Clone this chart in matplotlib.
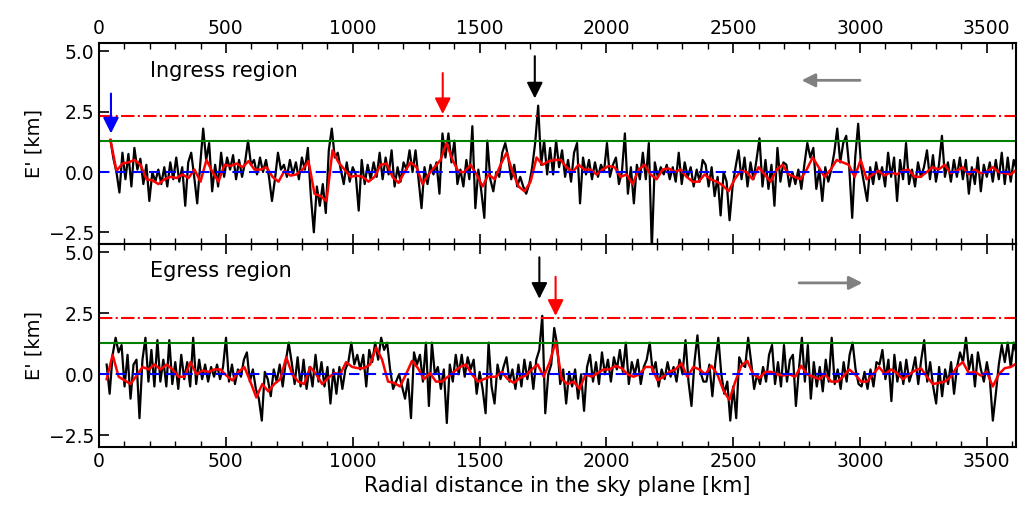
import numpy as np
import matplotlib.pyplot as plt
from matplotlib.ticker import MultipleLocator

# ---- data ----
# ingress (top panel): black = raw profile, red = smoothed profile
ing_start, ing_end = 45, 3618
ing_raw = [
    1.33, 0.55, 0.0, -0.85, 0.8, -0.3, 0.75, -0.6, 1.0, 0.1,
    0.55, -0.5, 0.3, -1.2, 0.0, -0.4, 0.1, -0.5, 0.2, -0.6,
    0.4, -0.3, 0.6, -0.4, 0.2, -1.4, 0.4, 0.8, -0.2, -1.3,
    0.3, 1.8, 0.5, 1.2, -0.8, 0.3, -0.6, 0.8, -0.2, 0.6,
    0.1, 0.7, -0.3, 0.5, -0.2, 0.4, 1.3, 0.3, 0.5, -0.1,
    0.6, 0.0, 0.5, -0.2, -1.2, -0.3, 0.8, 0.1, 0.3, -0.2,
    0.5, -0.1, 0.4, -0.3, 0.6, 0.1, 1.0, -1.0, -2.5, -0.6,
    -1.4, -0.5, -1.7, 0.9, 1.8, 0.6, 0.8, 0.1, -0.5, 0.4,
    -0.4, 0.2, -0.1, -1.6, 0.5, -0.5, 0.3, -0.3, 0.4, -0.2,
    0.8, -0.3, 0.6, -0.1, 0.9, -0.6, 0.2, -0.4, 0.4,
    0.1, 0.9, 0.0, 0.9, -0.3, -1.5, 0.2, -0.5, 0.3, -0.1,
    0.4, -0.9, 1.6, 0.6, 1.6, 0.4, 1.3, -0.5, 0.1, -0.6,
    0.5, -0.3, 1.9, -1.5, 0.1, -0.8, -1.9, 1.3, -0.3, -0.8,
    0.0, -0.2, 0.8, 1.2, 0.6, -0.3, 0.3, -0.6, -0.2, -0.6,
    -0.9, -0.5, 0.2, 1.2, 2.75, 0.3, 1.3, -0.1, 1.0, -0.1,
    1.3, 0.2, 0.9, -0.2, 0.5, -0.4, 0.8, 1.2, -1.3, 0.6,
    -0.1, 0.5, -0.3, 0.4, -0.2, 0.3, 0.0, 1.2, -0.2, 0.3,
    0.6, -0.5, 0.0, 1.6, -0.9, 0.2, -1.3, 0.3, -0.3, 0.8,
    -0.3, 1.2, -3.2, 0.4, -0.2, 0.2, -0.1, 0.3, -0.3, 0.2,
    -0.4, 0.8, -0.5, 0.4, -0.2, 0.2, -0.6, 0.1, -0.4, 0.5,
    0.3, -0.6, 0.2, -1.0, -0.2, -1.8, 0.0, -0.4, -2.0, -0.6,
    0.2, 0.9, -0.3, 0.6, -0.6, 0.4, -0.3, 0.5, 1.4, -0.6,
    0.5, -0.7, 0.3, -1.4, 1.0, -0.4, 0.4, 0.3, -0.6, 0.0,
    -0.5, 0.1, -0.7, 0.3, 1.2, 0.6, 1.0, -0.7, 0.1, -1.2,
    0.2, -0.4, 0.1, 0.8, 1.8, 0.4, 1.2, 1.5, 0.2, -1.9,
    0.6, 2.0, 0.2, -0.5, -1.2, 0.2, -0.5, 0.4, -0.3, 0.2,
    -0.6, 0.8, -0.2, 0.6, -1.2, 0.5, -0.3, 1.2, -0.5, 0.1,
    -0.6, 0.4, -0.2, 0.2, 0.9, -0.3, 0.7, -0.4, 0.3, 1.5,
    -0.2, 0.4, -0.4, 0.5, -0.2, 0.6, -0.3, 0.5, -0.9, 0.2,
    -0.5, 0.6, -0.8, 0.3, -0.2, 0.4, -0.4, 0.5, -0.3, 0.8,
    -0.5, 0.6, -0.4, 0.5, 0.1,
]
ing_smooth = [
    1.33, 0.05, 0.35, 0.4, 0.5, 0.3, -0.3, -0.35, -0.5, -0.3,
    -0.2, -0.25, -0.1, -0.25, 0.1, -0.4, 0.5, 0.0, -0.4, 0.3,
    0.25, 0.35, 0.2, 0.45, 0.1, 0.1, 0.2, -0.2, -0.4, 0.05,
    -0.15, -0.1, 0.1, 0.45, -0.9, -1.0, -1.2, 0.9, 0.4, 0.1,
    -0.2, -0.15, -0.2, -0.4, -0.2, 0.3, 0.35, -0.2, -0.45, 0.0,
    0.4, 0.2, -0.5, -0.1, 0.2, 0.5, 1.2, 0.5, 0.0, 0.0,
    0.3, -0.1, -0.6, -0.1, -0.3, 0.3, 0.8, 0.0, -0.6, -0.8,
    -0.4, 0.6, 0.3, 0.45, 0.5, 0.5, 0.2, 0.0, 0.3, 0.1,
    0.1, -0.1, 0.1, 0.25, 0.2, -0.2, -0.1, -0.5, 0.1, 0.3,
    -0.1, -0.3, 0.1, 0.15, 0.0, 0.1, -0.2, -0.4, -0.4, -0.1,
    -0.3, -0.4, -0.55, -0.8, -0.3, 0.05, 0.0, -0.3, 0.2, -0.1,
    -0.4, 0.1, 0.3, -0.1, -0.2, -0.3, 0.1, 0.6, 0.2, -0.2,
    0.1, 0.5, 0.4, 0.3, -0.2, 0.5, -0.3, -0.1, 0.05, -0.15,
    0.0, -0.1, 0.05, 0.1, -0.2, -0.2, 0.0, 0.2, 0.1, 0.3,
    -0.05, 0.05, 0.2, -0.1, 0.1, -0.05, 0.0, 0.2, 0.0, -0.05,
    -0.1, 0.1,
]

# egress (bottom panel)
egr_start, egr_end = 30, 3618
egr_raw = [
    0.4, -0.8, 0.8, 1.5, 0.9, 1.2, -0.5, 0.8, -1.0, 0.4,
    0.6, -1.8, 0.6, 1.5, -0.3, 1.0, -0.5, 1.4, -0.3, 0.6,
    -0.5, 1.4, -0.4, 0.5, -0.6, 0.8, -0.2, 0.5, -0.5, 1.5,
    -0.4, 0.6, -0.2, 0.4, -0.3, 0.3, -0.1, 0.4, -0.2, 0.3,
    1.5, -0.3, 0.4, -0.4, 0.2, -0.1, 0.6, 0.9, -0.3, 0.2,
    -0.6, -1.0, -1.9, 0.1, -0.2, -0.9, 0.2, -0.3, 0.4, -0.5,
    0.5, 1.3, 0.5, -0.4, 0.7, -0.5, 0.6, -0.6, 0.3, -0.5,
    0.8, -0.3, 0.5, -0.5, 0.3, -1.2, 0.2, -0.8, 0.3, -0.6,
    0.2, 0.5, 1.3, 0.4, 0.8, 0.2, 0.8, -0.5, 1.0, 0.5,
    1.3, 0.6, 1.5, 1.0, 1.3, 0.2, -0.6, -0.3, 0.0, -0.5,
    -1.0,
    -0.2, -1.8, 0.9, 0.4, 0.8, -0.3, 1.3, -1.3, 1.3, 0.0,
    0.3, -0.6, 0.2, -2.0, 0.4, -0.3, 0.8, 0.0, 0.8, -0.1,
    0.7, 0.2, 0.6, -0.8, 0.1, -0.6, -1.6, 1.3, -0.5, -1.2,
    0.4, -0.2, 0.3, 0.7, -0.3, 0.2, -0.6, 0.4, -0.5, 0.6,
    -0.2, 0.5, -0.6, 0.6, 1.0, 2.4, -1.6, 0.0, 0.4, 1.9,
    1.2, -0.4, 0.2, -1.2, 0.1, -0.5, 0.2, -1.0, 0.0, -1.5,
    0.3, 0.8, -0.3, 0.5, -0.4, 0.9, 0.0, 0.6, -0.3, 0.7,
    0.2, 1.0, 0.1, 1.3, -0.4, 0.5, 0.0, 0.6, -0.4, 0.3,
    0.6, 1.3, 0.1, 0.5, -0.5, 0.2, -0.2, 0.5, -0.1, 0.3,
    -0.3, 0.6, 0.0, 1.4, -0.3, -1.3, 0.5, 1.6, 0.1, -0.3,
    -0.3, 0.4, -0.9, 0.5, 1.5, 0.0, -0.8, -0.3, -1.9, -0.5,
    -1.8, 0.7, 0.4, 0.3, 1.5, 0.5, -0.6, 0.0, -0.4, 0.3,
    -0.3, 0.8, 1.2, -0.4, 0.5, -0.5, 1.2, -0.3, 0.6, 0.8,
    -1.3, 0.2, 1.5, -0.3, 1.2, -1.0, 0.5, -0.5, 0.3, -0.7,
    0.6, -0.3, 1.5, -0.4, 0.2, -0.6, 0.5, -0.3, 0.8, 1.3,
    0.2, -0.4, -0.5, 0.1, -0.6, 0.2, -0.5, 0.5, 0.4, 1.0,
    -0.2, 0.6, -1.1, 0.8, -0.3, 0.5, -0.4, 0.6, -0.3, 0.1,
    0.7, -0.4, 0.6, 1.4, -0.3, 0.5, -0.5, -1.2, 0.3, -0.9,
    0.2, -0.4, 0.5, -0.8, 0.3, 0.9, 0.5, 1.5, 0.2, 0.8,
    -0.5, 0.9, 0.2, -0.3, 0.5, -0.2, -1.9, -0.8, 0.4, 1.2,
    0.5, 1.3, 0.3, 1.3, 0.8,
]
egr_smooth = [
    -0.2, 0.8, -0.1, -0.25, -0.4, -0.05, 0.3, 0.2, 0.4, 0.2,
    0.4, 0.2, -0.1, -0.1, 0.5, 0.0, 0.15, 0.1, 0.2, 0.2,
    -0.05, -0.25, 0.1, 0.3, -0.3, -0.95, -0.4, -0.7, -0.4, -0.2,
    0.7, 0.0, -0.3, -0.4, 0.3, 0.0, -0.4, -0.15, 0.05, 0.0,
    0.5, 0.3, 0.25, 0.25, 0.4, 1.1, 0.6, -0.3, -0.35, -0.5,
    0.0, 0.55, 0.25, -0.2, 0.05, -0.3, -0.3, -0.1, 0.1, 0.3,
    0.4, 0.0, -0.3, -0.2, -0.1, -0.1, 0.1, -0.2, -0.35, -0.15,
    -0.05, 0.2, 0.4, -0.1, 0.5, 1.35, -0.2, -0.4, -0.3, -0.6,
    0.0, -0.1, 0.05, 0.2, 0.2, 0.35, 0.25, 0.0, -0.1, 0.0,
    0.3, 0.3, -0.25, -0.1, 0.1, 0.2, 0.45, -0.1, 0.3, 0.2,
    0.0, 0.35, 0.0, -0.65, -1.05, -0.3, 0.35, 0.55, 0.0, -0.15,
    0.1, 0.1, 0.0, -0.05, 0.0, -0.1, 0.35, 0.0, -0.1, -0.2,
    0.0, -0.3, -0.3, -0.1, 0.2, 0.0, -0.3, -0.3, 0.0, 0.3,
    0.0, 0.2, 0.05, -0.2, 0.0, 0.15, 0.25, -0.1, -0.4, -0.35,
    -0.3, -0.1, 0.3, 0.5, 0.05, 0.1, -0.05, 0.1, -0.5, 0.0,
    0.25, 0.3, 0.45,
]

# horizontal reference levels [km]
mean_level = 0.0
sigma3_level = 1.28
thresh_level = 2.33


def draw_panel(ax, raw, smooth, start, end):
    x_raw = np.linspace(start, end, len(raw))
    x_smooth = np.linspace(start, end, len(smooth))
    ax.plot(x_raw, raw, color='black', lw=1.6)
    ax.plot(x_smooth, smooth, color='red', lw=1.8)
    ax.axhline(sigma3_level, color='green', lw=1.5)
    ax.axhline(thresh_level, color='red', lw=1.5, ls='-.')
    ax.axhline(mean_level, color='blue', lw=1.5, ls=(0, (5, 3)))
    ax.set_xlim(0, 3615)
    ax.set_ylim(-2.98, 5.35)
    ax.set_yticks([-2.5, 0.0, 2.5, 5.0])
    ax.xaxis.set_major_locator(MultipleLocator(500))
    ax.xaxis.set_minor_locator(MultipleLocator(100))
    ax.tick_params(which='both', direction='in', top=True, labelsize=13.5)
    ax.tick_params(which='major', length=7, width=1.2)
    ax.tick_params(which='minor', length=4, width=1.0)
    ax.set_ylabel("E' [km]", fontsize=14)
    for s in ax.spines.values():
        s.set_linewidth(1.5)


def arrow(ax, x, y_tail, y_head, color):
    ax.annotate('', xy=(x, y_head), xytext=(x, y_tail),
                arrowprops=dict(arrowstyle='-|>', color=color, lw=1.5,
                                mutation_scale=24, shrinkA=0, shrinkB=0))


fig = plt.figure(figsize=(10.19, 5.05), dpi=100)
ax1 = fig.add_axes([0.0972, 0.517, 0.8998, 0.398])
ax2 = fig.add_axes([0.0972, 0.115, 0.8998, 0.402], sharex=ax1)

draw_panel(ax1, ing_raw, ing_smooth, ing_start, ing_end)
draw_panel(ax2, egr_raw, egr_smooth, egr_start, egr_end)

ax1.tick_params(labeltop=True, labelbottom=False)
ax2.set_xlabel('Radial distance in the sky plane [km]', fontsize=15)

ax1.text(200, 4.2, 'Ingress region', fontsize=15, va='center')
ax2.text(200, 4.25, 'Egress region', fontsize=15, va='center')

# event markers
arrow(ax1, 47, 3.25, 1.6, 'blue')
arrow(ax1, 1355, 4.1, 2.4, 'red')
arrow(ax1, 1718, 4.8, 3.05, 'black')
arrow(ax2, 1736, 4.8, 3.1, 'black')
arrow(ax2, 1800, 4.0, 2.4, 'red')

# direction of motion
ax1.annotate('', xy=(2770, 3.8), xytext=(3000, 3.8),
             arrowprops=dict(arrowstyle='-|>', color='gray', lw=2,
                             mutation_scale=20, shrinkA=0, shrinkB=0))
ax2.annotate('', xy=(3010, 3.75), xytext=(2760, 3.75),
             arrowprops=dict(arrowstyle='-|>', color='gray', lw=2,
                             mutation_scale=20, shrinkA=0, shrinkB=0))

fig.savefig('out.png', dpi=100)
